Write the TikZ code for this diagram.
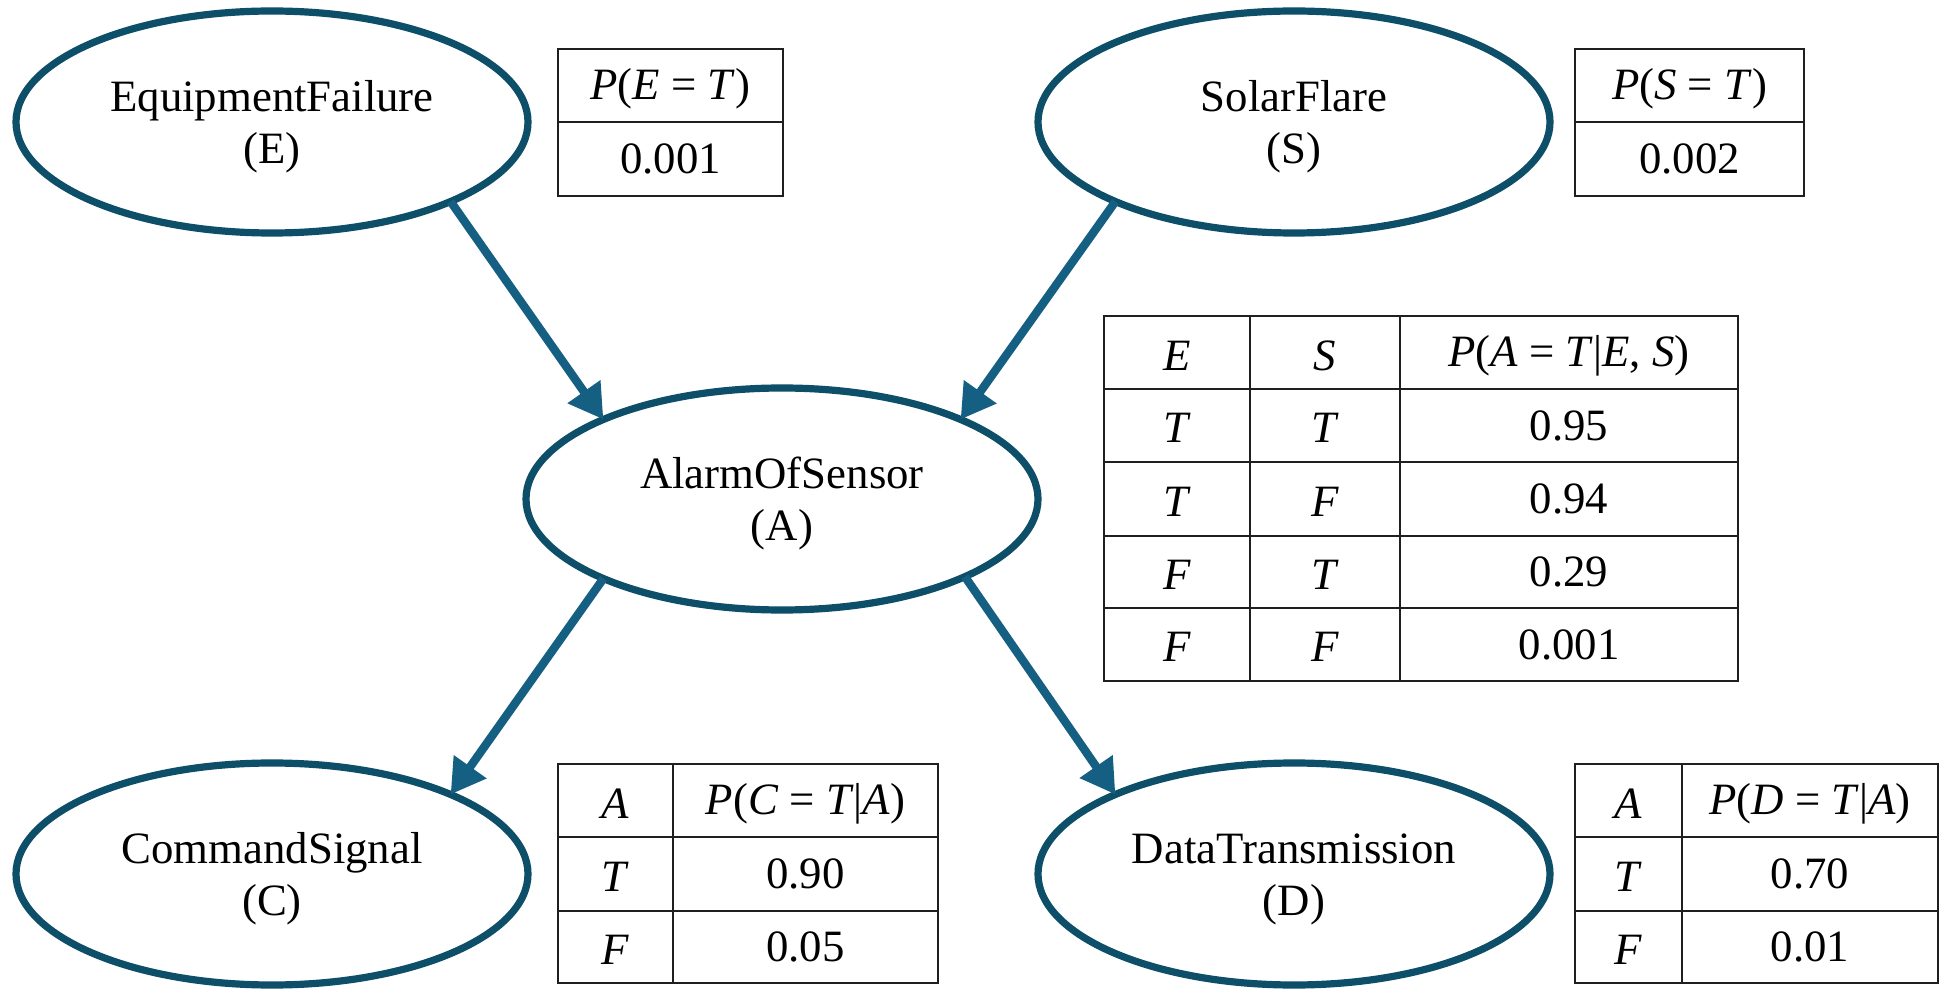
\documentclass[tikz,border=0pt]{standalone}
\usepackage{fontspec}
\setmainfont{Liberation Serif}
\usetikzlibrary{shapes.geometric,arrows.meta}
\definecolor{ellcol}{HTML}{0D4E68}
\definecolor{arrcol}{HTML}{156082}
\newcommand{\toplift}{\rule{0pt}{20.3pt}}
\begin{document}
\begin{tikzpicture}[x=0.5pt,y=-0.5pt,
  bnode/.style={ellipse, draw=ellcol, line width=3.6pt, minimum width=256pt, minimum height=111pt,
    inner sep=0pt, outer sep=0pt, align=center, font=\rmfamily\fontsize{22.4}{26}\selectfont},
  link/.style={draw=arrcol, line width=4.2pt, -{Triangle[width=19pt,length=17pt]}},
  tab/.style={draw=black!88, line width=1.1pt},
  cell/.style={inner sep=0pt, font=\rmfamily\fontsize{22.4}{26}\selectfont}]
\useasboundingbox[fill=white] (0,0) rectangle (1944,989);

% Bayesian network nodes
\node[bnode] (E) at (272,122) {\toplift EquipmentFailure\\(E)};
\node[bnode] (S) at (1294,122) {\toplift SolarFlare\\(S)};
\node[bnode] (A) at (782,499) {\toplift AlarmOfSensor\\(A)};
\node[bnode] (C) at (272,874) {\toplift CommandSignal\\(C)};
\node[bnode] (D) at (1294,874) {\toplift DataTransmission\\(D)};

% Connectors
\draw[link] (E.-24) -- (A.156);
\draw[link] (S.204) -- (A.24);
\draw[link] (A.204) -- (C.24);
\draw[link] (A.-23) -- (D.156);

% Table P(E=T)
\draw[tab] (558,49) rectangle (783,196);
\draw[tab] (558,122) -- (783,122);
\node[cell] (tE1) at (670.5,89) {\textit{P}(\textit{E} = \textit{T})};
\node[cell] (tE2) at (670.5,159) {0.001};

% Table P(S=T)
\draw[tab] (1575,49) rectangle (1804,196);
\draw[tab] (1575,122) -- (1804,122);
\node[cell] (tS1) at (1689.5,89) {\textit{P}(\textit{S} = \textit{T})};
\node[cell] (tS2) at (1689.5,159) {0.002};

% Table P(A=T|E,S)
\draw[tab] (1104,316) rectangle (1738,681);
\foreach \yy in {389,462,536,608} \draw[tab] (1104,\yy) -- (1738,\yy);
\foreach \xx in {1250,1400} \draw[tab] (\xx,316) -- (\xx,681);
\node[cell] (a00) at (1177,356) {\textit{E}};
\node[cell] (a01) at (1325,356) {\textit{S}};
\node[cell] (a02) at (1569,356) {\textit{P}(\textit{A} = \textit{T}|\textit{E}, \textit{S})};
\node[cell] (a10) at (1177,428) {\textit{T}};
\node[cell] (a11) at (1325,428) {\textit{T}};
\node[cell] (a12) at (1569,425.5) {0.95};
\node[cell] (a20) at (1177,501.5) {\textit{T}};
\node[cell] (a21) at (1325,501.5) {\textit{F}};
\node[cell] (a22) at (1569,499) {0.94};
\node[cell] (a30) at (1177,574.5) {\textit{F}};
\node[cell] (a31) at (1325,574.5) {\textit{T}};
\node[cell] (a32) at (1569,572) {0.29};
\node[cell] (a40) at (1177,647) {\textit{F}};
\node[cell] (a41) at (1325,647) {\textit{F}};
\node[cell] (a42) at (1569,644.5) {0.001};

% Table P(C=T|A)
\draw[tab] (558,764) rectangle (938,983);
\foreach \yy in {837,911} \draw[tab] (558,\yy) -- (938,\yy);
\draw[tab] (673,764) -- (673,983);
\node[cell] (c00) at (615.5,804) {\textit{A}};
\node[cell] (c01) at (805.5,804) {\textit{P}(\textit{C} = \textit{T}|\textit{A})};
\node[cell] (c10) at (615.5,876.5) {\textit{T}};
\node[cell] (c11) at (805.5,874) {0.90};
\node[cell] (c20) at (615.5,949.5) {\textit{F}};
\node[cell] (c21) at (805.5,947) {0.05};

% Table P(D=T|A)
\draw[tab] (1575,764) rectangle (1938,983);
\foreach \yy in {837,911} \draw[tab] (1575,\yy) -- (1938,\yy);
\draw[tab] (1682,764) -- (1682,983);
\node[cell] (d00) at (1628.5,804) {\textit{A}};
\node[cell] (d01) at (1810,804) {\textit{P}(\textit{D} = \textit{T}|\textit{A})};
\node[cell] (d10) at (1628.5,876.5) {\textit{T}};
\node[cell] (d11) at (1810,874) {0.70};
\node[cell] (d20) at (1628.5,949.5) {\textit{F}};
\node[cell] (d21) at (1810,947) {0.01};
\end{tikzpicture}
\end{document}
